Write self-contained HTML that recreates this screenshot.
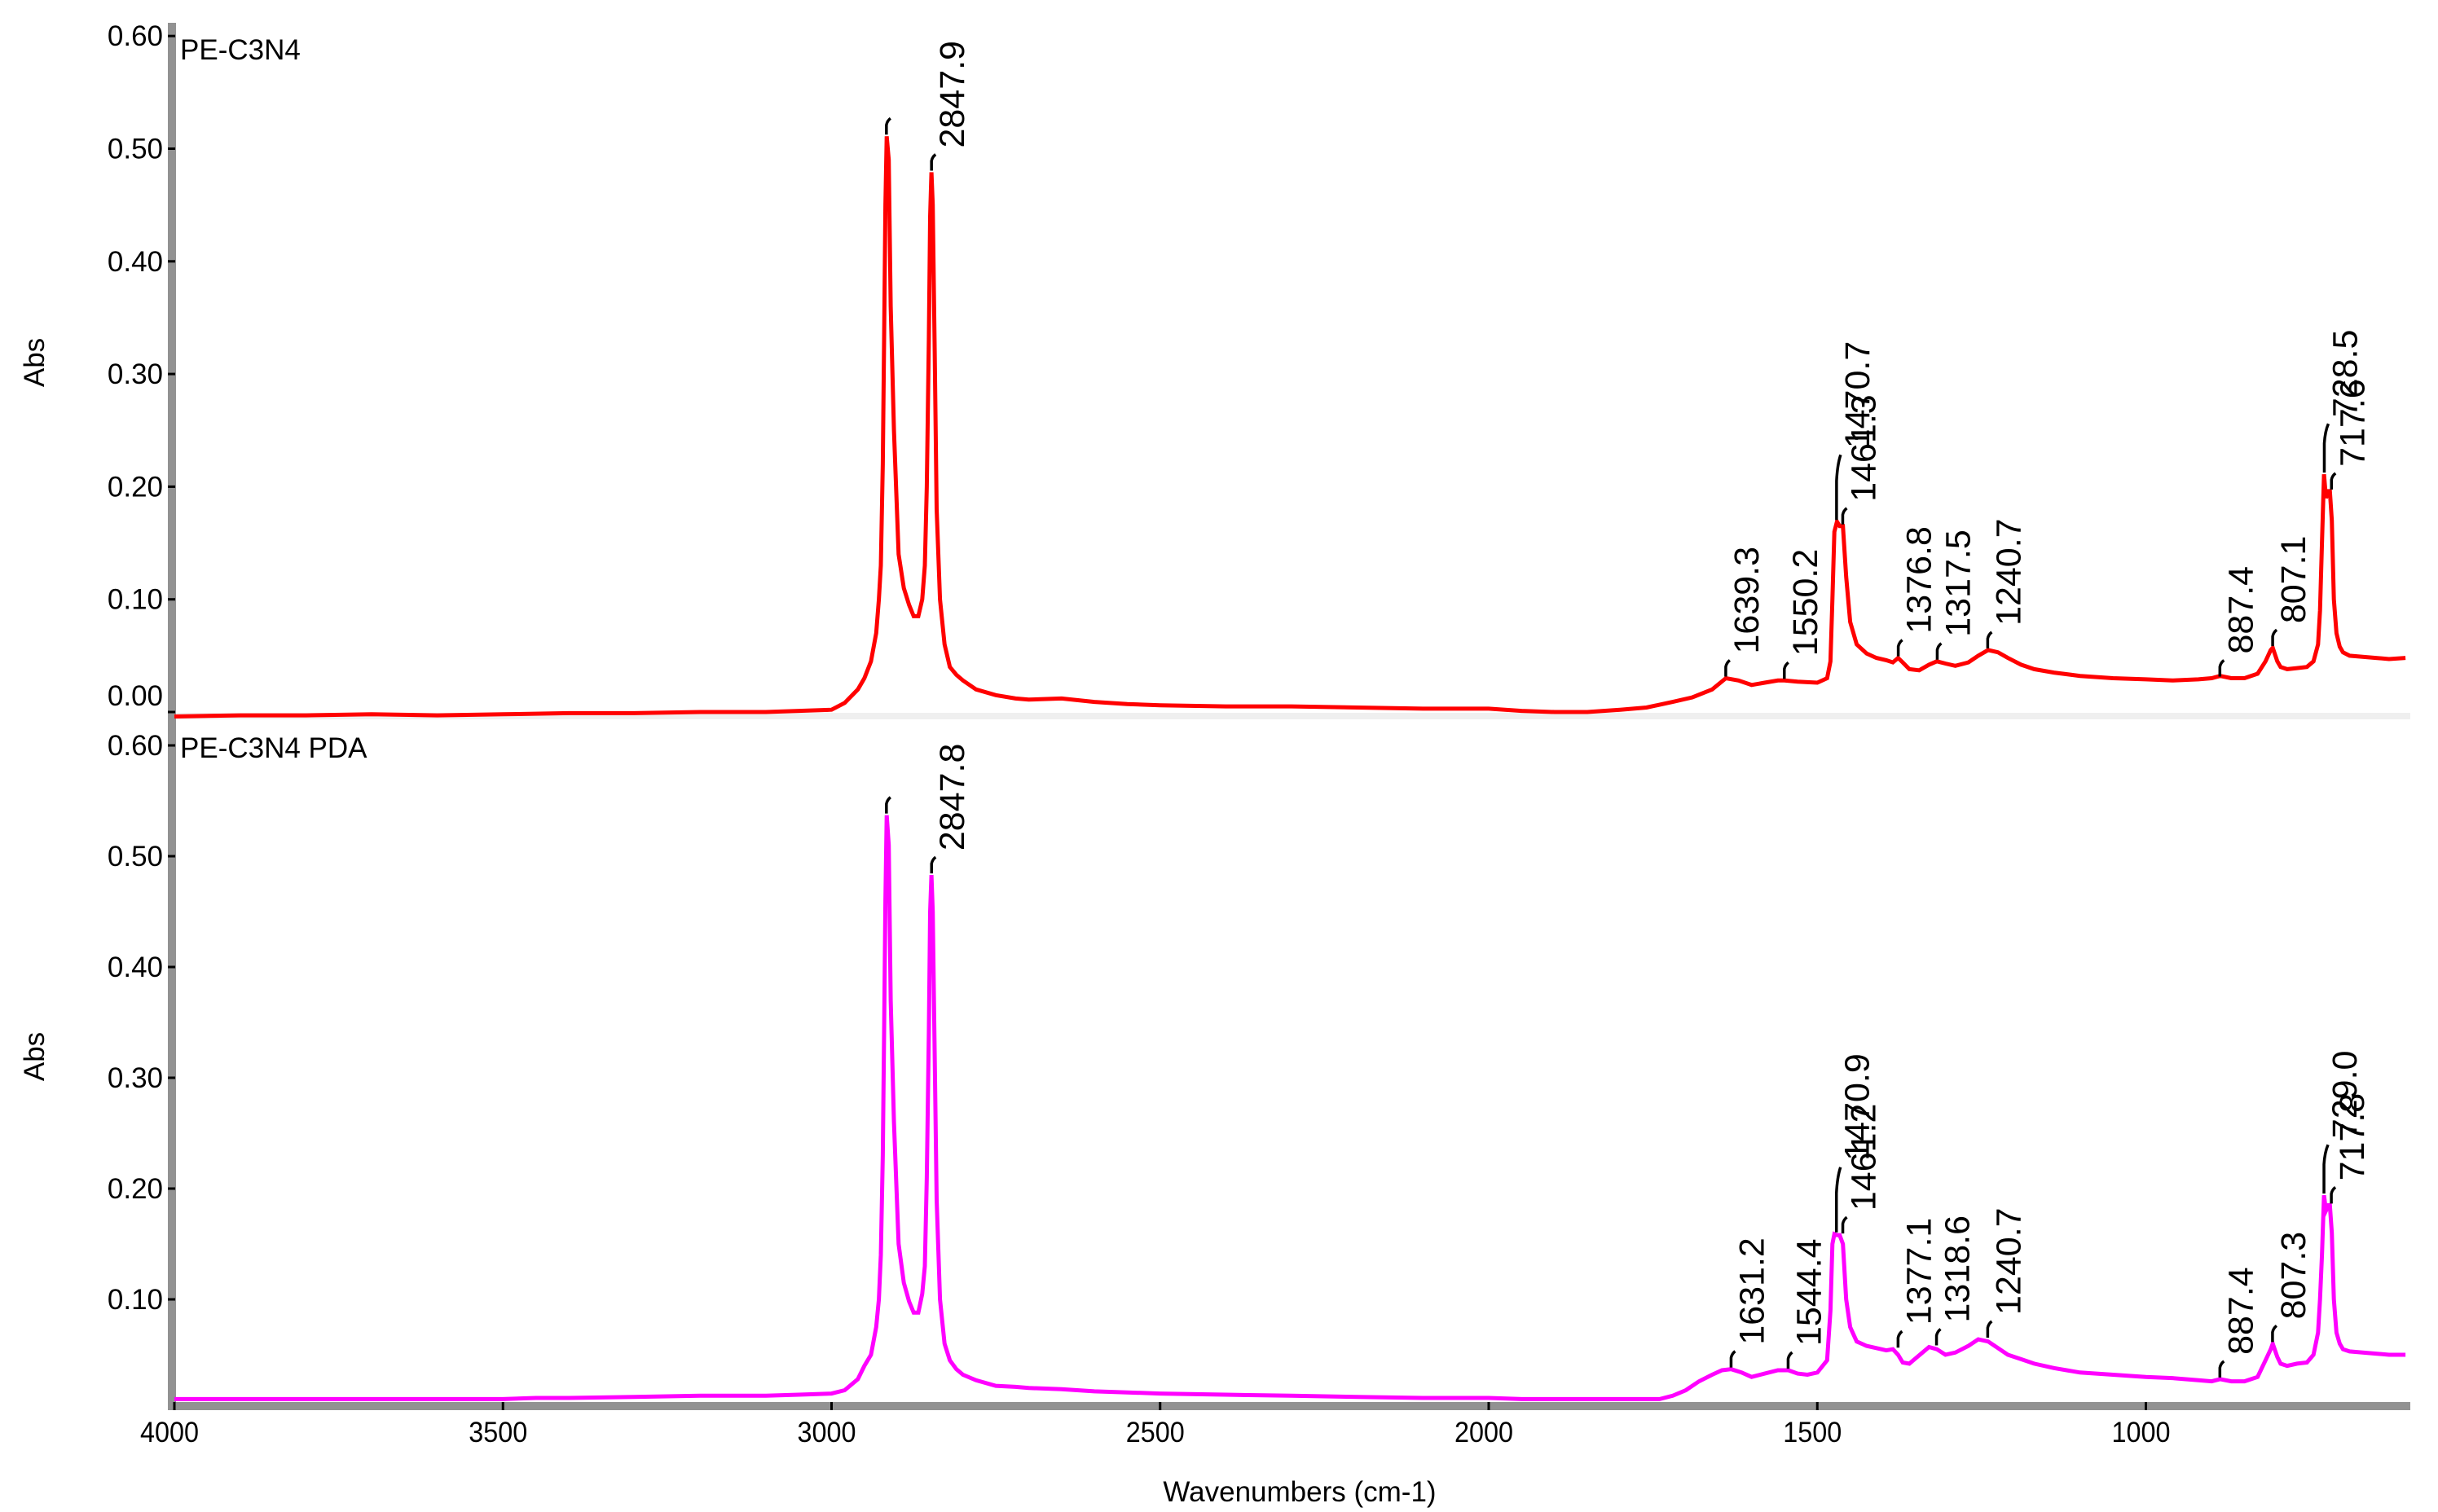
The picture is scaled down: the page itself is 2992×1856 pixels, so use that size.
<!DOCTYPE html>
<html><head><meta charset="utf-8"><style>
html,body{margin:0;padding:0;background:#fff;}
svg{display:block;font-family:"Liberation Sans",Arial,sans-serif;}
</style></head><body>
<svg id="chart" width="2992" height="1856" viewBox="0 0 2992 1856" xmlns="http://www.w3.org/2000/svg">
<rect width="2992" height="1856" fill="#fff"/>
<g id="axes"></g>
<g id="series"></g>
<g id="annots"></g>
</svg>
<script>
// ---- data ----
const yTicks = [0.00, 0.10, 0.20, 0.30, 0.40, 0.50, 0.60];
const yTickLabels = ["0.00","0.10","0.20","0.30","0.40","0.50","0.60"];
const xTicks = [4000, 3500, 3000, 2500, 2000, 1500, 1000];
const xTickLabels = ["4000","3500","3000","2500","2000","1500","1000"];
const redWn = [4000,3900,3800,3700,3600,3500,3400,3300,3200,3100,3000,2980,2960,2950,2940,2932,2928,2925,2922,2920,2918,2916,2913,2910,2905,2898,2890,2882,2875,2868,2862,2858,2855,2852,2850,2848,2846,2843,2840,2835,2828,2820,2810,2800,2780,2750,2720,2700,2650,2600,2550,2500,2400,2300,2200,2100,2000,1950,1900,1850,1800,1760,1720,1690,1660,1639,1620,1600,1580,1560,1550,1530,1500,1485,1480,1477,1474,1470,1466,1461,1456,1450,1440,1425,1410,1395,1385,1377,1370,1360,1345,1330,1318,1305,1290,1270,1255,1240,1225,1210,1190,1170,1140,1100,1050,1000,960,920,900,887,870,850,830,818,810,807,800,795,785,770,755,745,738,735,732,729,726,722,720,717,714,710,705,700,690,670,650,630,605];
const redAbs = [-0.004,-0.003,-0.003,-0.002,-0.003,-0.002,-0.001,-0.001,0.000,0.000,0.002,0.008,0.02,0.03,0.045,0.07,0.10,0.13,0.22,0.33,0.45,0.511,0.49,0.36,0.25,0.14,0.11,0.095,0.085,0.085,0.10,0.13,0.20,0.33,0.44,0.479,0.45,0.32,0.18,0.10,0.06,0.04,0.033,0.028,0.02,0.015,0.012,0.011,0.012,0.009,0.007,0.006,0.005,0.005,0.004,0.003,0.003,0.001,0.000,0.000,0.002,0.004,0.009,0.013,0.02,0.030,0.028,0.024,0.026,0.028,0.028,0.027,0.026,0.030,0.045,0.10,0.16,0.169,0.165,0.165,0.12,0.08,0.06,0.052,0.048,0.046,0.044,0.048,0.044,0.038,0.037,0.042,0.045,0.043,0.041,0.044,0.050,0.055,0.053,0.048,0.042,0.038,0.035,0.032,0.030,0.029,0.028,0.029,0.030,0.032,0.030,0.030,0.034,0.045,0.055,0.057,0.045,0.040,0.038,0.039,0.040,0.045,0.06,0.09,0.15,0.211,0.190,0.196,0.196,0.170,0.10,0.070,0.058,0.053,0.050,0.049,0.048,0.047,0.048];
const magWn = [4000,3900,3800,3700,3600,3500,3450,3400,3300,3200,3100,3050,3000,2980,2960,2950,2940,2932,2928,2925,2922,2920,2918,2916,2913,2910,2905,2898,2890,2882,2875,2868,2862,2858,2855,2852,2850,2848,2846,2843,2840,2835,2828,2820,2810,2800,2780,2750,2720,2700,2650,2600,2550,2500,2400,2300,2200,2100,2000,1950,1900,1850,1800,1760,1740,1720,1700,1680,1660,1645,1631,1615,1600,1580,1560,1544,1530,1515,1500,1485,1480,1477,1474,1470,1466,1461,1456,1450,1440,1425,1410,1395,1385,1377,1370,1360,1350,1340,1330,1318,1305,1290,1270,1255,1240,1225,1210,1190,1170,1140,1100,1050,1000,960,920,900,887,870,850,830,818,810,807,800,795,785,770,755,745,738,735,732,729,726,722,720,717,714,710,705,700,690,670,650,630,605];
const magAbs = [0.010,0.010,0.010,0.010,0.010,0.010,0.011,0.011,0.012,0.013,0.013,0.014,0.015,0.018,0.028,0.04,0.05,0.075,0.10,0.14,0.23,0.34,0.46,0.537,0.51,0.37,0.26,0.15,0.115,0.098,0.088,0.088,0.105,0.13,0.21,0.34,0.45,0.483,0.45,0.32,0.19,0.10,0.06,0.045,0.037,0.032,0.027,0.022,0.021,0.020,0.019,0.017,0.016,0.015,0.014,0.013,0.012,0.011,0.011,0.010,0.010,0.010,0.010,0.010,0.010,0.013,0.018,0.026,0.032,0.036,0.037,0.034,0.030,0.033,0.036,0.036,0.033,0.032,0.034,0.045,0.09,0.15,0.159,0.158,0.158,0.150,0.10,0.075,0.062,0.058,0.056,0.054,0.055,0.050,0.043,0.042,0.047,0.052,0.057,0.055,0.050,0.052,0.058,0.064,0.062,0.056,0.050,0.046,0.042,0.038,0.034,0.032,0.030,0.029,0.027,0.026,0.028,0.026,0.026,0.030,0.045,0.055,0.060,0.048,0.042,0.040,0.042,0.043,0.050,0.07,0.10,0.14,0.194,0.180,0.185,0.185,0.160,0.10,0.070,0.060,0.055,0.053,0.052,0.051,0.050,0.050];
const redPeakWn = [2916.5,2847.9,1639.3,1550.2,1470.7,1461.3,1376.8,1317.5,1240.7,887.4,807.1,728.5,717.6];
const redPeakAbs = [0.511,0.479,0.030,0.028,0.169,0.165,0.048,0.045,0.055,0.030,0.057,0.211,0.196];
const redPeakLabels = ["","2847.9","1639.3","1550.2","1470.7","1461.3","1376.8","1317.5","1240.7","887.4","807.1","728.5","717.6"];
const redPeakHook = [20,20,20,20,80,20,20,20,20,20,20,60,20];
const magPeakWn = [2916.5,2847.8,1631.2,1544.4,1470.9,1461.2,1377.1,1318.6,1240.7,887.4,807.3,729.0,717.8];
const magPeakAbs = [0.537,0.483,0.037,0.036,0.159,0.158,0.055,0.057,0.064,0.028,0.060,0.194,0.185];
const magPeakLabels = ["","2847.8","1631.2","1544.4","1470.9","1461.2","1377.1","1318.6","1240.7","887.4","807.3","729.0","717.8"];
const magPeakHook = [20,20,20,20,80,20,20,20,20,20,20,60,20];

// ---- scales ----
const NS = "http://www.w3.org/2000/svg";
const X0 = 214, XS = 0.8065, XEND = 2958;
function xScale(w){ return X0 + (4000 - w) * XS; }
function yUpper(v){ return 874 - v * 1383; }
function yLower(v){ return 1731 - v * 1360; }
function mk(tag, attrs, parent){ const e = document.createElementNS(NS, tag); for (const k in attrs) e.setAttribute(k, attrs[k]); parent.appendChild(e); return e; }

const axes = document.getElementById('axes');
const series = document.getElementById('series');
const annots = document.getElementById('annots');

let sep = mk('rect', {x:216, y:875, width:XEND-216, height:8, fill:'#efefef'}, axes);


let yax = mk('rect', {x:206, y:28, width:10, height:1703, fill:'#929292'}, axes);


let xax = mk('rect', {x:206, y:1721, width:XEND-206, height:10, fill:'#929292'}, axes);



function drawYTicks(yf, panel, skipZero){
  yTicks.forEach((v, i) => {
    if (skipZero && v === 0) return;
    const y = yf(v);
    let t = mk('rect', {x:206, y:y-1.5, width:9, height:3, fill:'#000'}, axes);
    
    
    const ly = (v === 0) ? y - 8 : y + 12;
    let l = mk('text', {x:200, y:ly, 'font-size':35, 'text-anchor':'end', fill:'#000'}, axes);
    l.textContent = yTickLabels[i];
    
    
  });
}
drawYTicks(yUpper, 'upper', false);
drawYTicks(yLower, 'lower', true);

xTicks.forEach((w, i) => {
  const x = xScale(w);
  let t = mk('rect', {x:x-1.5, y:1721, width:3, height:10, fill:'#000'}, axes);
  
  
  let l = mk('text', {x:x-6, y:1770, 'font-size':35, 'text-anchor':'middle', fill:'#000', 'textLength':72, 'lengthAdjust':'spacingAndGlyphs'}, axes);
  l.textContent = xTickLabels[i];
  
  
});

let xt = mk('text', {x:1595, y:1843, 'font-size':35, 'text-anchor':'middle', fill:'#000'}, axes);
xt.textContent = 'Wavenumbers (cm-1)';


[[445,'upper'],[1297,'lower']].forEach(([cy, p]) => {
  let a = mk('text', {x:0, y:0, 'font-size':35, 'text-anchor':'middle', fill:'#000', transform:'translate(54,'+cy+') rotate(-90)'}, axes);
  a.textContent = 'Abs';
  
  
});
let p1 = mk('text', {x:221, y:73, 'font-size':35, fill:'#000'}, axes);
p1.textContent = 'PE-C3N4';


let p2 = mk('text', {x:221, y:930, 'font-size':35, fill:'#000'}, axes);
p2.textContent = 'PE-C3N4 PDA';



function drawSeries(wn, ab, yf, color, name){
  const pts = wn.map((w, i) => xScale(w).toFixed(1) + ',' + yf(ab[i]).toFixed(1)).join(' ');
  let pl = mk('polyline', {points:pts, fill:'none', stroke:color, 'stroke-width':5, 'stroke-linejoin':'miter'}, series);
  
  
}
drawSeries(redWn, redAbs, yUpper, '#ff0000', 'pe-c3n4-spectrum');
drawSeries(magWn, magAbs, yLower, '#ff00ff', 'pe-c3n4-pda-spectrum');

function drawPeaks(wn, ab, labels, hooks, yf, panel){
  wn.forEach((w, i) => {
    const x = xScale(w), y = yf(ab[i]) - 2, h = hooks[i];
    let hk = mk('path', {d:'M'+x+','+y+' L'+x+','+(y-h*0.6)+' Q'+(x+1)+','+(y-h*0.85)+' '+(x+5)+','+(y-h), fill:'none', stroke:'#000', 'stroke-width':3.5}, annots);
    
    
    if (!labels[i]) return;
    const ty = y - h - 8;
    let t = mk('text', {x:0, y:0, 'font-size':43, fill:'#000', transform:'translate('+(x+40)+','+ty+') rotate(-90)'}, annots);
    t.textContent = labels[i];
    
    
  });
}
drawPeaks(redPeakWn, redPeakAbs, redPeakLabels, redPeakHook, yUpper, 'upper');
drawPeaks(magPeakWn, magPeakAbs, magPeakLabels, magPeakHook, yLower, 'lower');
</script>
</body></html>
